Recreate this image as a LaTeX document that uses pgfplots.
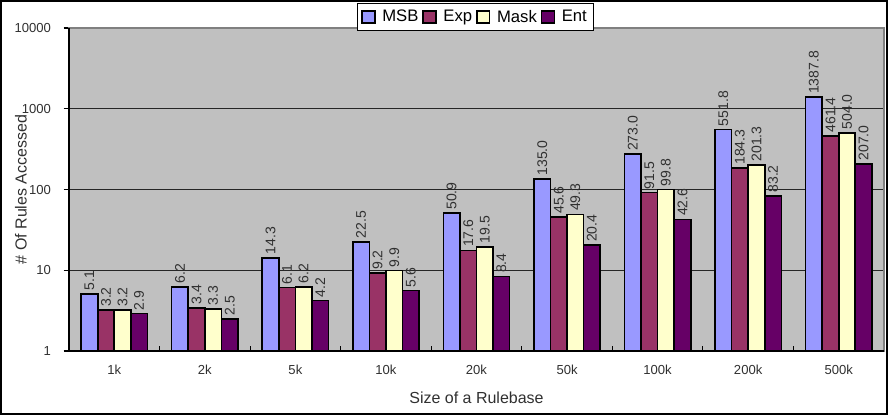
\documentclass[border=0pt]{standalone}
\usepackage{pgfplots}
\pgfplotsset{compat=1.18}
\usepackage{fontspec}
\setmainfont{Liberation Sans}
\definecolor{msb}{HTML}{9999FF}
\definecolor{exp}{HTML}{993366}
\definecolor{mask}{HTML}{FFFFCC}
\definecolor{ent}{HTML}{660066}
\definecolor{bg}{HTML}{C0C0C0}
\definecolor{txt}{HTML}{303030}
\begin{document}
\begin{tikzpicture}
\draw[use as bounding box, draw=none] (-51.75pt,-48pt) rectangle (614.25pt,263.25pt);
\draw[black, line width=1pt] (-51pt,-47.25pt) rectangle (613.5pt,262.5pt);
\begin{axis}[
  at={(0pt,0pt)}, anchor=south west,
  scale only axis, width=611.25pt, height=242.25pt,
  ymode=log, ymin=1, ymax=10000,
  log origin=infty,
  xmin=-0.5, xmax=8.5,
  ybar=0pt, bar width=0.183,
  /pgf/number format/assume math mode=true,
  /pgf/number format/1000 sep={},
  tick pos=left,
  xtick={0,...,8},
  xticklabels={1k,2k,5k,10k,20k,50k,100k,200k,500k},
  minor xtick={0.5,1.5,...,7.5},
  xtick style={draw=none},
  minor x tick style={draw=black, line width=0.8pt},
  minor tick length=4pt,
  xtick align=inside,
  ytick={1,10,100,1000,10000},
  yticklabels={1,10,100,1000,10000},
  ytick align=outside,
  major tick length=4pt,
  ytick style={draw=black, line width=0.8pt},
  yminorticks=false,
  ymajorgrids, major grid style={draw=black!85, line width=0.8pt},
  axis line style={draw=black!50, line width=0.8pt},
  axis background/.style={fill=bg},
  tick label style={font=\fontsize{9.8}{11}\selectfont, text=txt},
  xticklabel style={yshift=-7pt},
  yticklabel style={xshift=-6pt},
  xlabel={Size of a Rulebase},
  ylabel={\# Of Rules Accessed},
  label style={font=\fontsize{12}{14}\selectfont, text=txt},
  xlabel style={yshift=-6pt},
  ylabel style={yshift=-16pt},
  every axis plot/.append style={draw=black, line width=1.2pt},
  point meta=rawy,
  nodes near coords={\pgfmathprintnumber[fixed,fixed zerofill,precision=1]{\pgfplotspointmeta}},
  every node near coord/.append style={rotate=90, anchor=west, font=\fontsize{10.5}{12}\selectfont, text=txt, inner sep=2pt},
  legend columns=4,
  legend style={at={(rel axis cs:0.3534,1.0774)}, anchor=north west, draw=black, fill=white, line width=0.6pt,
    font=\fontsize{12.5}{15}\selectfont, inner xsep=3pt, inner ysep=3pt,
    /tikz/every even column/.append style={column sep=1pt},
    /tikz/every odd column/.append style={column sep=3pt}},
  legend image code/.code={\draw[#1, line width=1.2pt] (0pt,-4.5pt) rectangle (9.5pt,4.5pt);},
  clip=false,
]
\addplot[fill=msb] coordinates {(0,5.1) (1,6.2) (2,14.3) (3,22.5) (4,50.9) (5,135.0) (6,273.0) (7,551.8) (8,1387.8)};
\addplot[fill=exp] coordinates {(0,3.2) (1,3.4) (2,6.1) (3,9.2) (4,17.6) (5,45.6) (6,91.5) (7,184.3) (8,461.4)};
\addplot[fill=mask] coordinates {(0,3.2) (1,3.3) (2,6.2) (3,9.9) (4,19.5) (5,49.3) (6,99.8) (7,201.3) (8,504.0)};
\addplot[fill=ent] coordinates {(0,2.9) (1,2.5) (2,4.2) (3,5.6) (4,8.4) (5,20.4) (6,42.6) (7,83.2) (8,207.0)};
\legend{MSB,Exp,Mask,Ent}
\draw[black, line width=1.2pt] (rel axis cs:0,1) -- (rel axis cs:0,0) -- (rel axis cs:1,0);
\end{axis}
\end{tikzpicture}
\end{document}
